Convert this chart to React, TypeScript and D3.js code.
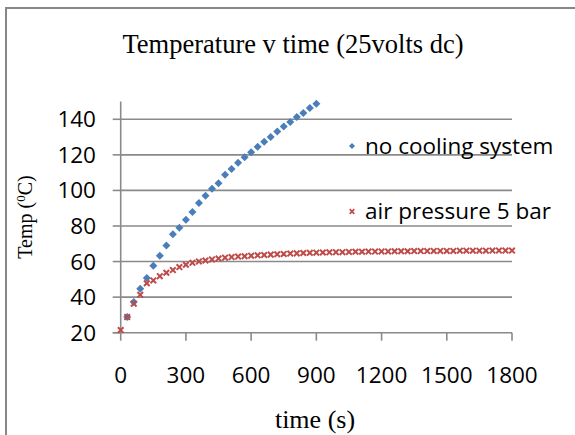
import React from "react";
import * as d3 from "d3";

const titleText = "Temperature v time (25volts dc)";
const xAxisTitle = "time (s)";
const seriesNames = ["no cooling system", "air pressure 5 bar"];

const xTicks = [0, 300, 600, 900, 1200, 1500, 1800];
const yTicks = [20, 40, 60, 80, 100, 120, 140];

const noCoolingTime = [
  30, 60, 90, 120, 150, 180, 210, 240, 270, 300, 330, 360, 390, 420, 450,
  480, 510, 540, 570, 600, 630, 660, 690, 720, 750, 780, 810, 840, 870, 900,
];
const noCoolingTemp = [
  28.8, 37.2, 44.7, 50.7, 57.6, 63.3, 69.1, 75.3, 79.0, 83.5, 87.8, 92.9, 97.0,
  100.9, 104.1, 108.8, 112.1, 115.5, 118.7, 121.5, 124.5, 127.3, 130.1, 133.1,
  136.0, 138.5, 141.3, 143.6, 146.4, 148.7,
];

const airTime = [
  0, 30, 60, 90, 120, 150, 180, 210, 240, 270, 300, 330, 360, 390, 420, 450,
  480, 510, 540, 570, 600, 630, 660, 690, 720, 750, 780, 810, 840, 870, 900,
  930, 960, 990, 1020, 1050, 1080, 1110, 1140, 1170, 1200, 1230, 1260, 1290,
  1320, 1350, 1380, 1410, 1440, 1470, 1500, 1530, 1560, 1590, 1620, 1650,
  1680, 1710, 1740, 1770, 1800,
];
const airTemp = [
  21.5, 28.8, 36.3, 41.3, 47.8, 49.4, 51.8, 53.7, 55.2, 56.9, 58.2, 59.3, 60.1,
  60.6, 61.2, 61.7, 62.2, 62.5, 62.8, 63.0, 63.3, 63.5, 63.7, 63.9, 64.1, 64.3,
  64.5, 64.6, 64.8, 64.9, 65.0, 65.1, 65.2, 65.3, 65.3, 65.4, 65.5, 65.5, 65.6,
  65.6, 65.7, 65.7, 65.8, 65.8, 65.8, 65.9, 65.9, 65.9, 66.0, 66.0, 66.0, 66.0,
  66.1, 66.1, 66.1, 66.1, 66.1, 66.2, 66.2, 66.2, 66.2,
];

const BLUE = "#4a7ebb";
const RED = "#be4b48";
const GRID = "#8a8a8a";

export default function App() {
  const W = 575;
  const H = 435;
  const x = d3.scaleLinear().domain([0, 1800]).range([120.7, 512]);
  const y = d3.scaleLinear().domain([20, 150]).range([332.7, 101.5]);

  const diamond = (cx: number, cy: number, r: number) =>
    `M${cx},${cy - r}L${cx + r},${cy}L${cx},${cy + r}L${cx - r},${cy}Z`;
  const cross = (cx: number, cy: number, r: number) =>
    `M${cx - r},${cy - r}L${cx + r},${cy + r}M${cx - r},${cy + r}L${cx + r},${cy - r}`;

  const tickFont = "'Open Sans', 'Liberation Sans', sans-serif";
  const serif = "'Liberation Serif', 'Times New Roman', serif";

  return (
    <svg
      width={W}
      height={H}
      style={{ position: "absolute", left: 0, top: 0, background: "#fff" }}
    >
      <rect x={0} y={0} width={W} height={H} fill="#fff" />
      {/* chart border */}
      <rect x={6} y={8} width={W + 20} height={H + 20} fill="none" stroke="#878787" strokeWidth={2} />

      {/* title */}
      <text x={293} y={53} textAnchor="middle" fontFamily={serif} fontSize={26.5} fill="#000">
        {titleText}
      </text>

      {/* gridlines */}
      {yTicks.slice(1).map((t) => (
        <line key={"g" + t} x1={x(0)} x2={x(1800)} y1={y(t)} y2={y(t)} stroke={GRID} strokeWidth={1.6} />
      ))}

      {/* y axis */}
      <line x1={x(0)} x2={x(0)} y1={y(150)} y2={y(20)} stroke={GRID} strokeWidth={1.6} />
      {yTicks.map((t) => (
        <line key={"yt" + t} x1={x(0) - 8} x2={x(0)} y1={y(t)} y2={y(t)} stroke={GRID} strokeWidth={1.6} />
      ))}
      {yTicks.map((t) => (
        <text key={"yl" + t} x={96} y={y(t) + 8} textAnchor="end" fontFamily={tickFont} fontSize={22.5} fill="#000">
          {t}
        </text>
      ))}

      {/* x axis */}
      <line x1={x(0) - 8} x2={x(1800)} y1={y(20)} y2={y(20)} stroke={GRID} strokeWidth={1.6} />
      {xTicks.map((t) => (
        <line key={"xt" + t} x1={x(t)} x2={x(t)} y1={y(20)} y2={y(20) + 8} stroke={GRID} strokeWidth={1.6} />
      ))}
      {xTicks.map((t) => (
        <text key={"xl" + t} x={x(t)} y={383} textAnchor="middle" fontFamily={tickFont} fontSize={22.5} fill="#000">
          {t}
        </text>
      ))}

      {/* axis titles */}
      <text x={315} y={428} textAnchor="middle" fontFamily={serif} fontSize={26} fill="#000">
        {xAxisTitle}
      </text>
      <text
        transform={`translate(32,217) rotate(-90)`}
        textAnchor="middle"
        fontFamily={serif}
        fontSize={20}
        fill="#000"
      >
        Temp (<tspan dy={-7} fontSize={13}>0</tspan>
        <tspan dy={7}>C)</tspan>
      </text>

      {/* series: no cooling */}
      {noCoolingTime.map((t, i) => (
        <path key={"b" + i} d={diamond(x(t), y(noCoolingTemp[i]), 4)} fill={BLUE} />
      ))}
      {/* series: air pressure */}
      {airTime.map((t, i) => (
        <path key={"r" + i} d={cross(x(t), y(airTemp[i]), 2.8)} stroke={RED} strokeWidth={2} fill="none" />
      ))}

      {/* legend */}
      <path d={diamond(352, 146, 3)} fill={BLUE} />
      <text x={365} y={153.5} fontFamily={tickFont} fontSize={22.5} fill="#000">
        {seriesNames[0]}
      </text>
      <path d={cross(352, 211.5, 2.3)} stroke={RED} strokeWidth={1.7} fill="none" />
      <text x={365} y={219} fontFamily={tickFont} fontSize={22.5} fill="#000">
        {seriesNames[1]}
      </text>
    </svg>
  );
}
